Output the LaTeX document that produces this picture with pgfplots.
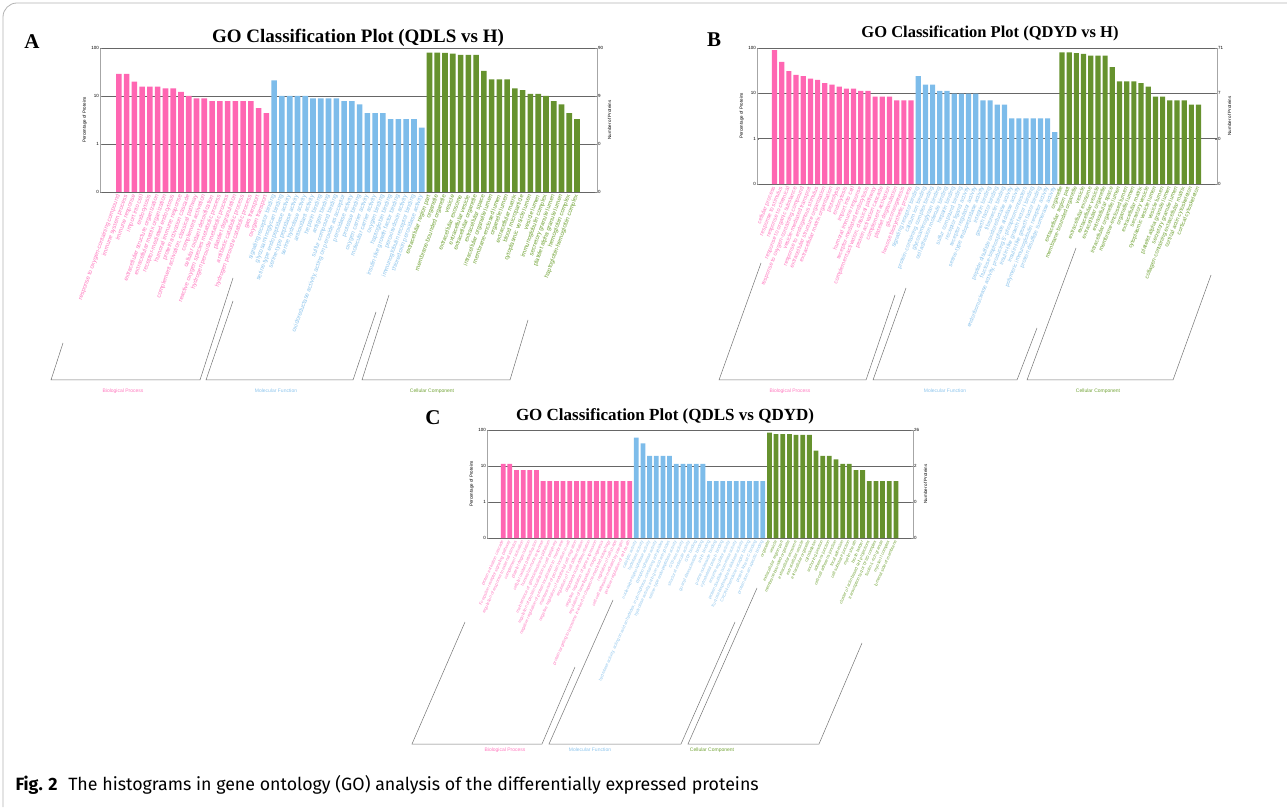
\documentclass[border=0pt]{standalone}
\usepackage{pgfplots}
\pgfplotsset{compat=1.18}
\usepackage{fontspec}
\setmainfont{Liberation Serif}
\setsansfont{Liberation Sans}
\newfontfamily\capfont{Fira Sans}

\definecolor{bpbar}{RGB}{255,102,178}
\definecolor{mfbar}{RGB}{125,188,234}
\definecolor{ccbar}{RGB}{102,146,46}
\definecolor{bptxt}{RGB}{255,120,190}
\definecolor{mftxt}{RGB}{140,196,236}
\definecolor{cctxt}{RGB}{112,162,52}
\newcommand\bp[1]{\textcolor{bptxt}{#1}}
\newcommand\mf[1]{\textcolor{mftxt}{#1}}
\newcommand\cc[1]{\textcolor{cctxt}{#1}}
\newcommand\tinysf{\sffamily\fontsize{4.5}{5}\selectfont}

\begin{document}
\begin{tikzpicture}
\path[use as bounding box] (0pt,0pt) rectangle (1287pt,807pt);
\draw[black!30, line width=0.8pt, rounded corners=14pt] (3pt,0pt) -- (3pt,804pt) -- (1287pt,804pt);

% ---------------- A ----------------
\begin{axis}[at={(100pt,615pt)}, anchor=south west, width=497pt, height=144pt, scale only axis,
  ymode=log, ymin=0.1, ymax=100, log origin=infty,
  xmin=-1.43, xmax=62.57, ybar, bar width=0.72,
  ytick={1,10}, yticklabels={1,10}, ytick pos=left, ymajorgrids, yminorticks=false,
  extra y ticks={0.1,100}, extra y tick labels={0,100},
  major grid style={black!60, line width=0.5pt}, axis line style={black!35, line width=0.5pt},
  xtick={1,...,60}, major x tick style={draw=none}, major tick length=2pt,
  yticklabel style={font=\tinysf, inner sep=1pt}, ylabel style={font=\tinysf},
  ylabel={Percentage of Proteins},
  xticklabel style={rotate=70, anchor=east, font=\sffamily\fontsize{6}{6}\selectfont, inner sep=1pt},
  xticklabels={
  \bp{response to oxygen-containing compound},\bp{immune system process},\bp{immune response},\bp{import into cell},\bp{endocytosis},
  \bp{extracellular structure organization},\bp{extracellular matrix organization},\bp{receptor-mediated endocytosis},\bp{humoral immune response},\bp{protein activation cascade},
  {\bp{complement activation, classical pathway}},\bp{complement activation},\bp{cellular oxidant detoxification},\bp{reactive oxygen species metabolic process},\bp{hydrogen peroxide metabolic process},
  \bp{platelet degranulation},\bp{antibiotic catabolic process},\bp{hydrogen peroxide catabolic process},\bp{gas transport},\bp{oxygen transport},
  \mf{signaling receptor binding},\mf{glycosaminoglycan binding},\mf{serine-type endopeptidase activity},\mf{serine-type peptidase activity},\mf{serine hydrolase activity},
  \mf{antioxidant activity},\mf{heparin binding},\mf{antigen binding},\mf{sulfur compound binding},{\mf{oxidoreductase activity, acting on peroxide as acceptor}},
  \mf{peroxidase activity},\mf{protease binding},\mf{oxygen carrier activity},\mf{molecular carrier activity},\mf{oxygen binding},
  \mf{haptoglobin binding},\mf{insulin-like growth factor binding},\mf{peroxiredoxin activity},\mf{immunoglobulin receptor binding},\mf{thioredoxin peroxidase activity},
  \cc{extracellular region part},\cc{organelle},\cc{membrane-bounded organelle},\cc{vesicle},\cc{extracellular exosome},
  \cc{extracellular vesicle},\cc{extracellular organelle},\cc{extracellular space},\cc{intracellular organelle lumen},\cc{membrane-enclosed lumen},
  \cc{organelle lumen},\cc{extracellular matrix},\cc{blood microparticle},\cc{cytoplasmic vesicle lumen},\cc{vesicle lumen},
  \cc{immunoglobulin complex},\cc{secretory granule lumen},\cc{platelet alpha granule lumen},\cc{hemoglobin complex},\cc{haptoglobin-hemoglobin complex}}]
\addplot[fill=bpbar, draw=none, bar shift=0pt] coordinates {
 (1,28.9) (2,28.9) (3,20.0) (4,15.6) (5,15.6) (6,15.6) (7,14.4) (8,14.4) (9,12.2) (10,10.0)
 (11,8.9) (12,8.9) (13,7.8) (14,7.8) (15,7.8) (16,7.8) (17,7.8) (18,7.8) (19,5.6) (20,4.4)};
\addplot[fill=mfbar, draw=none, bar shift=0pt] coordinates {
 (21,21.1) (22,10.0) (23,10.0) (24,10.0) (25,10.0) (26,8.9) (27,8.9) (28,8.9) (29,8.9) (30,7.8)
 (31,7.8) (32,6.7) (33,4.4) (34,4.4) (35,4.4) (36,3.3) (37,3.3) (38,3.3) (39,3.3) (40,2.2)};
\addplot[fill=ccbar, draw=none, bar shift=0pt] coordinates {
 (41,80.0) (42,80.0) (43,78.9) (44,76.7) (45,72.2) (46,72.2) (47,72.2) (48,33.3) (49,22.2) (50,22.2)
 (51,22.2) (52,14.4) (53,13.3) (54,11.1) (55,11.1) (56,10.0) (57,7.8) (58,6.7) (59,4.4) (60,3.3)};
\end{axis}
\begin{axis}[at={(100pt,615pt)}, anchor=south west, width=497pt, height=144pt, scale only axis,
  ymode=log, ymin=0.1, ymax=100, xmin=0, xmax=1, axis y line*=right, axis x line=none,
  ytick={0.1,1,10,100}, yticklabels={0,0,9,90}, major tick length=2pt, yminorticks=false,
  axis line style={black!35, line width=0.5pt},
  yticklabel style={font=\tinysf, inner sep=1pt}, ylabel style={font=\tinysf},
  ylabel={Number of Proteins}]
\end{axis}

% ---------------- B ----------------
\begin{axis}[at={(757pt,623pt)}, anchor=south west, width=460pt, height=136pt, scale only axis,
  ymode=log, ymin=0.1, ymax=100, log origin=infty,
  xmin=-1.43, xmax=62.57, ybar, bar width=0.72,
  ytick={1,10}, yticklabels={1,10}, ytick pos=left, ymajorgrids, yminorticks=false,
  extra y ticks={0.1,100}, extra y tick labels={0,100},
  major grid style={black!60, line width=0.5pt}, axis line style={black!35, line width=0.5pt},
  xtick={1,...,60}, major x tick style={draw=none}, major tick length=2pt,
  yticklabel style={font=\tinysf, inner sep=1pt}, ylabel style={font=\tinysf},
  ylabel={Percentage of Proteins},
  xticklabel style={rotate=68, anchor=east, font=\sffamily\fontsize{5.7}{6}\selectfont, inner sep=1pt},
  xticklabels={
  \bp{cellular process},\bp{response to stimulus},\bp{response to chemical},\bp{response to organic substance},\bp{response to oxygen-containing compound},
  \bp{vesicle-mediated transport},\bp{response to endogenous stimulus},\bp{extracellular structure organization},\bp{extracellular matrix organization},\bp{proteolysis},
  \bp{endocytosis},\bp{import into cell},\bp{humoral immune response},\bp{receptor-mediated endocytosis},{\bp{complement activation, classical pathway}},
  \bp{protein activation cascade},\bp{complement activation},\bp{platelet degranulation},\bp{gluconeogenesis},\bp{hexose biosynthetic process},
  \mf{signaling receptor binding},\mf{calcium ion binding},\mf{protein-containing complex binding},\mf{glycosaminoglycan binding},\mf{cell adhesion molecule binding},
  \mf{heparin binding},\mf{sulfur compound binding},\mf{receptor ligand activity},\mf{receptor regulator activity},\mf{serine-type endopeptidase activity},
  \mf{integrin binding},\mf{growth factor binding},\mf{fibronectin binding},\mf{peptide disulfide oxidoreductase activity},\mf{fructose-bisphosphate aldolase activity},
  {\mf{endoribonuclease activity, producing 5'-phosphomonoesters}},\mf{insulin-like growth factor I binding},\mf{insulin-like growth factor binding},\mf{polymeric immunoglobulin receptor activity},\mf{protein disulfide isomerase activity},
  \cc{organelle},\cc{extracellular region part},\cc{membrane-bounded organelle},\cc{vesicle},\cc{extracellular exosome},
  \cc{extracellular vesicle},\cc{extracellular organelle},\cc{extracellular space},\cc{intracellular organelle lumen},\cc{membrane-enclosed lumen},
  \cc{organelle lumen},\cc{extracellular matrix},\cc{secretory vesicle},\cc{cytoplasmic vesicle lumen},\cc{vesicle lumen},
  \cc{platelet alpha granule lumen},\cc{secretory granule lumen},\cc{collagen-containing extracellular matrix},\cc{cortical actin cytoskeleton},\cc{cortical cytoskeleton}}]
\addplot[fill=bpbar, draw=none, bar shift=0pt] coordinates {
 (1,90.1) (2,49.3) (3,31.0) (4,25.4) (5,23.9) (6,21.1) (7,19.7) (8,16.9) (9,15.5) (10,14.1)
 (11,12.7) (12,12.7) (13,11.3) (14,11.3) (15,8.5) (16,8.5) (17,8.5) (18,7.0) (19,7.0) (20,7.0)};
\addplot[fill=mfbar, draw=none, bar shift=0pt] coordinates {
 (21,23.9) (22,15.5) (23,15.5) (24,11.3) (25,11.3) (26,9.9) (27,9.9) (28,9.9) (29,9.9) (30,7.0)
 (31,7.0) (32,5.6) (33,5.6) (34,2.8) (35,2.8) (36,2.8) (37,2.8) (38,2.8) (39,2.8) (40,1.4)};
\addplot[fill=ccbar, draw=none, bar shift=0pt] coordinates {
 (41,80.3) (42,80.3) (43,77.5) (44,74.6) (45,67.6) (46,67.6) (47,67.6) (48,38.0) (49,18.3) (50,18.3)
 (51,18.3) (52,16.9) (53,14.1) (54,8.5) (55,8.5) (56,7.0) (57,7.0) (58,7.0) (59,5.6) (60,5.6)};
\end{axis}
\begin{axis}[at={(757pt,623pt)}, anchor=south west, width=460pt, height=136pt, scale only axis,
  ymode=log, ymin=0.1, ymax=100, xmin=0, xmax=1, axis y line*=right, axis x line=none,
  ytick={0.1,1,10,100}, yticklabels={0,0,7,71}, major tick length=2pt, yminorticks=false,
  axis line style={black!35, line width=0.5pt},
  yticklabel style={font=\tinysf, inner sep=1pt}, ylabel style={font=\tinysf},
  ylabel={Number of Proteins}]
\end{axis}

% ---------------- C ----------------
\begin{axis}[at={(487pt,269pt)}, anchor=south west, width=426pt, height=108pt, scale only axis,
  ymode=log, ymin=0.1, ymax=100, log origin=infty,
  xmin=-1.43, xmax=62.57, ybar, bar width=0.72,
  ytick={1,10}, yticklabels={1,10}, ytick pos=left, ymajorgrids, yminorticks=false,
  extra y ticks={0.1,100}, extra y tick labels={0,100},
  major grid style={black!60, line width=0.5pt}, axis line style={black!35, line width=0.5pt},
  xtick={1,...,60}, major x tick style={draw=none}, major tick length=2pt,
  yticklabel style={font=\tinysf, inner sep=1pt}, ylabel style={font=\tinysf},
  ylabel={Percentage of Proteins},
  xticklabel style={rotate=66, anchor=east, font=\sffamily\fontsize{4.2}{5}\selectfont, inner sep=1pt},
  xticklabels={
  \bp{protein activation cascade},\bp{Fc-epsilon receptor signaling pathway},\bp{regulation of response to external stimulus},\bp{complement activation},\bp{platelet degranulation},
  \bp{cellular oxidant detoxification},\bp{humoral immune response},\bp{maintenance of gastrointestinal epithelium},\bp{regulation of protein localization to cell periphery},\bp{negative regulation of protein localization to membrane},
  \bp{maintenance of protein location in cell},\bp{negative regulation of endothelial cell migration},\bp{regulation of T cell differentiation},\bp{oligodendrocyte differentiation},\bp{negative regulation of gene expression},
  \bp{regulation of lamellipodium morphogenesis},\bp{protein targeting to lysosome involved in chaperone-mediated autophagy},\bp{regulation of cell shape},\bp{cell-cell adhesion mediated by integrin},\bp{positive regulation of cell death},
  \mf{catalytic activity},\mf{hydrolase activity},\mf{nucleoside-triphosphatase activity},\mf{pyrophosphatase activity},{\mf{hydrolase activity, acting on acid anhydrides, in phosphorus-containing anhydrides}},
  {\mf{hydrolase activity, acting on acid anhydrides}},\mf{serine-type endopeptidase activity},\mf{GTPase activity},\mf{structural molecule activity},\mf{GTP binding},
  \mf{guanyl ribonucleotide binding},\mf{actin binding},\mf{purine nucleoside binding},\mf{cytoskeletal protein binding},\mf{enzyme regulator activity},
  \mf{protein disulfide isomerase activity},\mf{fructose-bisphosphate aldolase activity},\mf{CXCR4 chemokine receptor binding},\mf{protein kinase C binding},\mf{protein domain specific binding},
  \cc{organelle},\cc{vesicle},\cc{extracellular region part},\cc{membrane-bounded organelle},\cc{extracellular exosome},
  \cc{extracellular vesicle},\cc{extracellular organelle},\cc{cytoskeleton},\cc{anchoring junction},\cc{adherens junction},
  \cc{cell-cell adherens junction},\cc{focal adhesion},\cc{cell-substrate junction},\cc{myelin sheath},\cc{brush border},
  \cc{cluster of actin-based cell projections},\cc{transcription factor TFIID complex},\cc{ficolin-1-rich granule},\cc{myosin II complex},\cc{lumenal side of membrane}}]
\addplot[fill=bpbar, draw=none, bar shift=0pt] coordinates {
 (1,11.5) (2,11.5) (3,7.7) (4,7.7) (5,7.7) (6,7.7) (7,3.8) (8,3.8) (9,3.8) (10,3.8)
 (11,3.8) (12,3.8) (13,3.8) (14,3.8) (15,3.8) (16,3.8) (17,3.8) (18,3.8) (19,3.8) (20,3.8)};
\addplot[fill=mfbar, draw=none, bar shift=0pt] coordinates {
 (21,61.5) (22,42.3) (23,19.2) (24,19.2) (25,19.2) (26,19.2) (27,11.5) (28,11.5) (29,11.5) (30,11.5)
 (31,11.5) (32,3.8) (33,3.8) (34,3.8) (35,3.8) (36,3.8) (37,3.8) (38,3.8) (39,3.8) (40,3.8)};
\addplot[fill=ccbar, draw=none, bar shift=0pt] coordinates {
 (41,84.6) (42,76.9) (43,76.9) (44,76.9) (45,73.1) (46,73.1) (47,73.1) (48,26.9) (49,19.2) (50,19.2)
 (51,15.4) (52,11.5) (53,11.5) (54,7.7) (55,7.7) (56,3.8) (57,3.8) (58,3.8) (59,3.8) (60,3.8)};
\end{axis}
\begin{axis}[at={(487pt,269pt)}, anchor=south west, width=426pt, height=108pt, scale only axis,
  ymode=log, ymin=0.1, ymax=100, xmin=0, xmax=1, axis y line*=right, axis x line=none,
  ytick={0.1,1,10,100}, yticklabels={0,0,2,26}, major tick length=2pt, yminorticks=false,
  axis line style={black!35, line width=0.5pt},
  yticklabel style={font=\tinysf, inner sep=1pt}, ylabel style={font=\tinysf},
  ylabel={Number of Proteins}]
\end{axis}

% titles and panel letters
\node[font=\bfseries\fontsize{19}{19}\selectfont] at (358pt,769pt) {GO Classification Plot (QDLS vs H)};
\node[font=\bfseries\fontsize{16.5}{17}\selectfont] at (990pt,774pt) {GO Classification Plot (QDYD vs H)};
\node[font=\bfseries\fontsize{17}{17}\selectfont] at (665pt,391pt) {GO Classification Plot (QDLS vs QDYD)};
\node[font=\bfseries\fontsize{21}{21}\selectfont] at (32pt,765pt) {A};
\node[font=\bfseries\fontsize{21}{21}\selectfont] at (714pt,767pt) {B};
\node[font=\bfseries\fontsize{21}{21}\selectfont] at (433pt,389pt) {C};

% group brackets
\begin{scope}[black!55, line width=0.5pt]
\draw (63pt,464pt) -- (51pt,427pt) -- (200pt,427pt) -- (233pt,529pt);
\draw (233pt,506pt) -- (206pt,427pt) -- (353pt,427pt) -- (376pt,495pt);
\draw (389pt,512pt) -- (362pt,427pt) -- (510pt,427pt) -- (528pt,487pt);
\draw (761pt,544pt) -- (719pt,427pt) -- (866pt,427pt) -- (895pt,512pt);
\draw (906pt,519pt) -- (873pt,427pt) -- (1017pt,427pt) -- (1037pt,479pt);
\draw (1076pt,559pt) -- (1027pt,427pt) -- (1173pt,427pt) -- (1211pt,532pt);
\draw (465pt,185pt) -- (412pt,63pt) -- (542pt,63pt) -- (575pt,140pt);
\draw (613pt,207pt) -- (549pt,63pt) -- (681pt,63pt) -- (735pt,185pt);
\draw (757pt,219pt) -- (688pt,63pt) -- (819pt,63pt) -- (862pt,164pt);
\end{scope}
\begin{scope}[font=\sffamily\fontsize{5}{5}\selectfont]
\node[text=bptxt] at (123pt,416pt) {Biological Process};
\node[text=mftxt] at (276pt,416pt) {Molecular Function};
\node[text=cctxt] at (432pt,416pt) {Cellular Component};
\node[text=bptxt] at (790pt,416pt) {Biological Process};
\node[text=mftxt] at (945pt,416pt) {Molecular Function};
\node[text=cctxt] at (1098pt,416pt) {Cellular Component};
\node[text=bptxt] at (505pt,57pt) {Biological Process};
\node[text=mftxt] at (590pt,57pt) {Molecular Function};
\node[text=cctxt] at (712pt,57pt) {Cellular Component};
\end{scope}

% caption
\node[anchor=west, font=\capfont\fontsize{17.8}{18}\selectfont] at (12pt,22pt)
  {\textbf{Fig. 2}\hspace{0.6em}The histograms in gene ontology (GO) analysis of the differentially expressed proteins};
\end{tikzpicture}
\end{document}
